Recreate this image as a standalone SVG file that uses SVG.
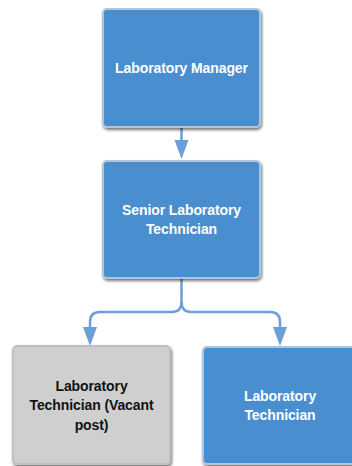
<svg xmlns="http://www.w3.org/2000/svg" width="352" height="466" viewBox="0 0 352 466">
  <defs>
    <filter id="shadow" x="-10%" y="-10%" width="130%" height="130%">
      <feGaussianBlur in="SourceAlpha" stdDeviation="1.5"/>
      <feOffset dx="1" dy="2" result="b"/>
      <feComponentTransfer><feFuncA type="linear" slope="0.55"/></feComponentTransfer>
      <feMerge><feMergeNode/><feMergeNode in="SourceGraphic"/></feMerge>
    </filter>
  </defs>
  <style>
    .box { stroke: #b4c3d6; stroke-width: 2; filter: url(#shadow); }
    .blue { fill: #4a8ecf; }
    .grey { fill: #cfcfcf; stroke: #c0c0c0; }
    .lbl { font-family: "Liberation Sans", Arial, sans-serif; font-size: 14px; font-weight: bold; text-anchor: middle; letter-spacing: -0.1px; }
    .w { fill: #ffffff; }
    .k { fill: #111111; }
    .conn { fill: none; stroke: #6a9fd8; stroke-width: 2.5; }
    .head { fill: #6a9fd8; }
  </style>

  <g id="connectors">
    <line class="conn" x1="181.5" y1="128" x2="181.5" y2="141"/>
    <polygon class="head" points="174.5,140 188.5,140 181.5,159"/>
    <path class="conn" d="M181.5,279 V302 Q181.5,312 171.5,312 H100 Q90,312 90,322 V328"/>
    <path class="conn" d="M181.5,302 Q181.5,312 191.5,312 H270 Q280,312 280,322 V328"/>
    <polygon class="head" points="83,327 97,327 90,346"/>
    <polygon class="head" points="273,327 287,327 280,346"/>
  </g>

  <g id="lab-manager">
    <rect class="box blue" x="103" y="9" width="157" height="118" rx="4"/>
    <text class="lbl w" x="181.5" y="73">Laboratory Manager</text>
  </g>

  <g id="senior-technician">
    <rect class="box blue" x="103" y="161" width="157" height="117" rx="4"/>
    <text class="lbl w" x="181.5" y="215">Senior Laboratory</text>
    <text class="lbl w" x="181.5" y="234">Technician</text>
  </g>

  <g id="technician-vacant">
    <rect class="box grey" x="13" y="346" width="157" height="118" rx="4"/>
    <text class="lbl k" x="91.5" y="391">Laboratory</text>
    <text class="lbl k" x="91.5" y="410">Technician (Vacant</text>
    <text class="lbl k" x="91.5" y="430">post)</text>
  </g>

  <g id="technician">
    <rect class="box blue" x="203" y="347" width="157" height="117" rx="4"/>
    <text class="lbl w" x="280" y="401">Laboratory</text>
    <text class="lbl w" x="280" y="420">Technician</text>
  </g>
</svg>
